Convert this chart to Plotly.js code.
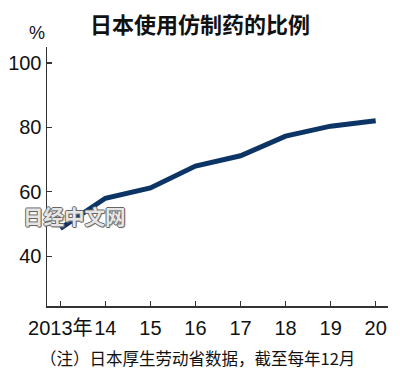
<!DOCTYPE html>
<html>
<head>
<meta charset="utf-8">
<script src="https://cdn.plot.ly/plotly-3.0.1.min.js"></script>
<style>html,body{margin:0;padding:0;background:#fff;}#chart{width:400px;height:376px;}</style>
</head>
<body>
<div id="chart"></div>
<script>
const years = [2013, 2014, 2015, 2016, 2017, 2018, 2019, 2020];
const shares = [48.6, 58.0, 61.2, 68.0, 71.2, 77.3, 80.4, 82.1];
const xTickVals = [2013, 2014, 2015, 2016, 2017, 2018, 2019, 2020];
const xTickText = ['2013年', '14', '15', '16', '17', '18', '19', '20'];
const yTickVals = [40, 60, 80, 100];
const yTickText = ['40', '60', '80', '100'];

const narrow = '"Liberation Sans Narrow", "Liberation Sans", "Noto Sans CJK SC", sans-serif';
const cjk = '"Noto Sans CJK SC", sans-serif';

const trace = {
  x: years, y: shares, type: 'scatter', mode: 'lines',
  line: {color: '#0c3565', width: 5},
  hoverinfo: 'skip'
};

const layout = {
  width: 400, height: 376,
  margin: {l: 47, r: 12, t: 47, b: 70},
  paper_bgcolor: '#fff', plot_bgcolor: '#fff',
  showlegend: false,
  title: {text: '<b>日本使用仿制药的比例</b>', font: {family: cjk, size: 22, color: '#111'}, x: 0.5, xanchor: 'center', y: 0.932, yanchor: 'middle'},
  xaxis: {
    range: [2012.705, 2020.273],
    tickvals: xTickVals, ticktext: xTickText,
    tickangle: 0,
    ticks: 'inside', ticklen: 5, tickwidth: 1.2, tickcolor: '#333',
    showline: true, linecolor: '#333', linewidth: 1.5,
    showgrid: false, zeroline: false,
    tickfont: {family: narrow, size: 20, color: '#111'},
    ticklabelstandoff: 3,
    fixedrange: true
  },
  yaxis: {
    range: [24.5, 105],
    tickvals: yTickVals, ticktext: yTickText,
    ticks: 'inside', ticklen: 5, tickwidth: 1.2, tickcolor: '#333',
    showline: true, linecolor: '#333', linewidth: 1.5,
    showgrid: false, zeroline: false,
    tickfont: {family: narrow, size: 20, color: '#111'},
    ticklabelstandoff: 0,
    fixedrange: true
  },
  annotations: [
    {text: '%', xref: 'paper', yref: 'paper', x: -0.03, y: 1.055, xanchor: 'center', yanchor: 'middle', showarrow: false,
     font: {family: narrow, size: 18, color: '#111'}},
    {text: '（注）日本厚生劳动省数据，截至每年12月', xref: 'paper', yref: 'paper', x: -0.025, y: -0.2, xanchor: 'left', yanchor: 'middle', showarrow: false,
     font: {family: cjk, size: 16.5, color: '#111'}},
    {text: '<b>日经中文网</b>', xref: 'paper', yref: 'paper', x: -0.075, y: 0.347, xanchor: 'left', yanchor: 'middle', showarrow: false,
     font: {family: cjk, size: 20.5, color: '#e6e6e6', shadow: '1px 0 0 #666, -1px 0 0 #666, 0 1px 0 #666, 0 -1px 0 #666, 1px 1px 1px #888'}}
  ]
};

Plotly.newPlot('chart', [trace], layout, {displayModeBar: false, staticPlot: true});
</script>
</body>
</html>
